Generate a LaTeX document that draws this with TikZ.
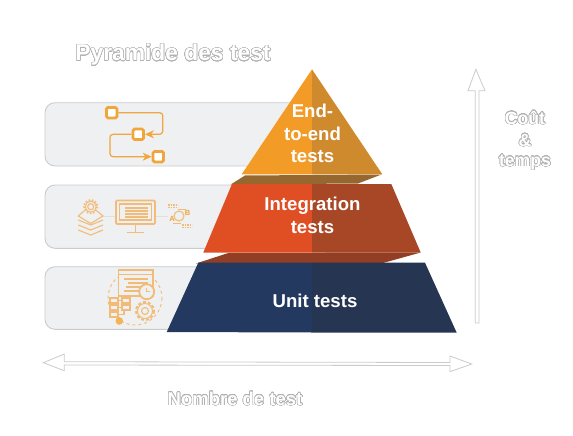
\documentclass[tikz,border=0pt]{standalone}
\usepackage{fontspec}
\setmainfont{Liberation Sans}
\usepackage{contour}
\contourlength{0.5pt}
\contournumber{32}
\usetikzlibrary{arrows.meta,calc}
\definecolor{ico}{HTML}{F0A63C}
\definecolor{icol}{HTML}{F2BC78}
\definecolor{edge}{HTML}{C9CBCD}
\definecolor{panelfill}{HTML}{EFF0F2}
\definecolor{orangeL}{RGB}{242,155,38}
\definecolor{orangeR}{RGB}{207,138,46}
\definecolor{redL}{RGB}{224,78,36}
\definecolor{redR}{RGB}{168,71,38}
\definecolor{navyL}{RGB}{35,57,95}
\definecolor{navyR}{RGB}{37,53,82}
\definecolor{bandA}{RGB}{150,104,48}
\definecolor{bandB}{RGB}{146,62,36}
\newcommand{\outl}[1]{\contour{black!30}{\textcolor{white}{#1}}}
\tikzset{
 panel/.style={draw=edge,fill=panelfill,line width=0.9pt,rounded corners=10pt},
 title/.style={font=\bfseries\fontsize{22.8}{26}\selectfont,inner sep=0pt,align=center},
 axislabel/.style={font=\bfseries\fontsize{17.6}{22.5}\selectfont,inner sep=0pt,align=center},
 bottomlabel/.style={font=\bfseries\fontsize{18.5}{22}\selectfont,inner sep=0pt,align=center},
 pyr/.style={font=\bfseries\fontsize{18.6}{22.8}\selectfont,text=white,inner sep=0pt,align=center},
 sq/.style={draw=ico,fill=white,line width=2.8pt,rounded corners=1.5pt,minimum size=10.5pt,inner sep=0pt},
 flow/.style={draw=ico,line width=1.2pt,rounded corners=3pt,-{Stealth[length=9pt,width=8pt]}},
 bigarrow/.style={draw=edge,fill=white,line width=0.8pt,line join=miter},
 tiny/.style={font=\bfseries\fontsize{7.5}{7.5}\selectfont,text=ico,inner sep=0pt},
}
\begin{document}
\begin{tikzpicture}[x=1pt,y=-1pt]
\useasboundingbox (0,0) rectangle (573,436);
% panels
\draw[panel] (290,102.7) -- (45,102.7) -- (45,166) -- (290,166);
\draw[panel] (290,185) -- (45,185) -- (45,248.3) -- (290,248.3);
\draw[panel] (260,266.7) -- (45,266.7) -- (45,329.3) -- (260,329.3);
% icon 1
\node[sq] (s1) at (111.7,112.7) {};
\node[sq] (s2) at (138.3,134.3) {};
\node[sq] (s3) at (158.3,156.7) {};
\draw[flow] (s1.east) -- (162.7,112.7) -- (162.7,134.3) -- (s2.east);
\draw[flow] (s2.west) -- (110,134.3) -- (110,156.7) -- (s3.west);
% icon 2: layers + gear
\begin{scope}[icol,line width=1.1pt]
\draw[black!12,line width=0.7pt] (102,216) -- (116,216) (155,216) -- (168,216);
\draw (90.7,206.7) circle (3);
\draw[line width=1pt] (90.7,206.7) circle (5.5);
\draw[dash pattern=on 1.6pt off 1.6pt,line width=1.8pt] (90.7,206.7) circle (6.6);
\draw (84,211) -- (78.3,216) -- (90.7,223.5) -- (103,216) -- (97,211);
\foreach \d in {0,5,10}{\draw (78.3,\d+220) -- (90.7,\d+227.5-2.5) -- (103,\d+220);}
% monitor
\draw[rounded corners=1pt,line width=1.6pt] (116,200.5) rectangle (155,224);
\draw (119.5,204) rectangle (151.5,220);
\draw (135.5,224) -- (135.5,232) (127,232.5) -- (144,232.5);
\foreach \y in {208,211,214,217}{\draw[line width=1.4pt] (125,\y) -- (148,\y);}
% exchange
\draw (179,216) circle (5);
\draw[line width=1.4pt,dash pattern=on 1.6pt off 0.9pt] (168,207.5) -- (178,207.5);
\draw[line width=1.4pt,dash pattern=on 1.6pt off 0.9pt] (168,205) -- (178,205);
\draw[line width=1.4pt,dash pattern=on 1.6pt off 0.9pt] (182,225) -- (192,225);
\draw[line width=1.4pt,dash pattern=on 1.6pt off 0.9pt] (182,227.5) -- (192,227.5);
\draw[line width=0.8pt] (173,223) -- (181,223) (178,209) -- (186,209);
\node[tiny] (xa) at (172,219) {A};
\node[tiny] (xb) at (187.5,213) {B};
% icon 3
\draw[dashed,line width=0.9pt] (135,298) circle (27);
\draw[fill=panelfill,line width=1.3pt] (118.3,270) rectangle (153,296);
\draw (118.3,274.5) -- (153,274.5);
\foreach \y/\a/\b in {279/124/148,283/128/148,287/126/146,291/124/140}{\draw (\a,\y) -- (\b,\y);}
\draw[fill=panelfill,line width=1.8pt] (146.7,291.7) circle (7.5);
\draw (146.7,288) -- (146.7,291.7) -- (150,291.7);
\draw[fill=panelfill] (110,298) rectangle (118,303) (122,298) rectangle (130,303) (110,305) rectangle (118,310) (122,305) rectangle (130,310) (110,312) rectangle (118,317);
\draw (118,300.5) -- (122,300.5) (118,307.5) -- (122,307.5) (118,314.5) -- (124,314.5) -- (124,310);
\draw[fill=panelfill,line width=1pt] (145,311) circle (7.5);
\draw[dash pattern=on 3pt off 2pt,line width=2pt] (145,311) circle (9);
\draw (145,311) circle (3.5);
\fill[ico!85] (119.3,321) circle (3.8);
\end{scope}
% pyramid
\fill[bandA] (245,175.5) -- (381.5,174.5) -- (358,183.5) -- (230.7,184.5) -- cycle;
\fill[bandB] (228.3,253) -- (420.7,252.5) -- (383,263) -- (196,263.5) -- cycle;
\fill[orangeL] (312,69.3) -- (241.7,174.3) -- (312,174.3) -- cycle;
\fill[orangeR] (312,69.3) -- (382.3,174.3) -- (312,174.3) -- cycle;
\fill[redL] (232,184) -- (312,184) -- (312,252.5) -- (203.3,252.5) -- cycle;
\fill[redR] (312,184) -- (391.3,184) -- (420.7,252.5) -- (312,252.5) -- cycle;
\fill[navyL] (198.3,262.7) -- (312,262.7) -- (312,332.5) -- (166.7,332) -- cycle;
\fill[navyR] (312,262.7) -- (425,262.7) -- (456.7,332.7) -- (312,332.5) -- cycle;
% pyramid labels
\node[pyr] (p1) at (312.5,133.5) {End-\\to-end\\tests};
\node[pyr] (p2) at (312.5,215.5) {Integration\\tests};
\node[pyr] (p3) at (315,300.7) {Unit tests};
% arrows
\draw[bigarrow] (475.2,323) -- (475.2,90.7) -- (468,90.7) -- (475.9,69.3) -- (485,90.7) -- (479,90.7) -- (479,323) -- cycle;
\draw[bigarrow] (43.3,362.7) -- (64.3,354) -- (64.3,361.7) -- (450,362.5) -- (450,356) -- (471.7,364) -- (450,371.7) -- (450,365.5) -- (64.3,365) -- (64.3,370.7) -- cycle;
% labels
\node[title] (t) at (173,55) {\outl{Pyramide des test}};
\node[axislabel] (c1) at (525,118) {\outl{Coût}};
\node[axislabel] (c2) at (525,140.5) {\outl{\&}};
\node[axislabel] (c3) at (525,162.7) {\outl{temps}};
\node[bottomlabel] (n) at (235,399) {\outl{Nombre de test}};
\end{tikzpicture}
\end{document}
